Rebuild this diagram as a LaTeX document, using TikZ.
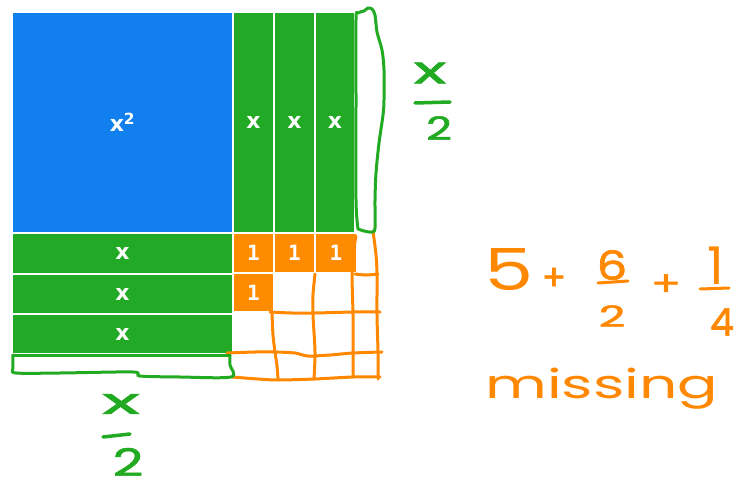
\documentclass[tikz,border=0pt]{standalone}
\usepackage{fontspec}
\setmainfont{DejaVu Sans}
\newfontfamily\boxfont{DejaVu Sans}
\newfontfamily\onefont{DejaVu Sans Mono}
\newfontfamily\hand{Poppins}
\newfontfamily\handb[FakeBold=1.5]{Poppins}
\definecolor{cblue}{RGB}{17,128,238}
\definecolor{cgreen}{RGB}{34,170,38}
\definecolor{corange}{RGB}{255,140,0}
\definecolor{hgreen}{RGB}{34,170,34}
\definecolor{horange}{RGB}{255,136,0}
\newcommand{\hw}[3]{\scalebox{#2}[1]{\hand\fontsize{#1}{#1}\selectfont #3}}
\newcommand{\hwb}[3]{\scalebox{#2}[1]{\handb\fontsize{#1}{#1}\selectfont #3}}
\begin{document}
\begin{tikzpicture}[x=1pt,y=-1pt,
  cell/.style={draw=white,line width=1.2pt,inner sep=0pt,text=white,
    font=\boxfont\bfseries\fontsize{22}{22}\selectfont},
  onecell/.style={cell,fill=corange,font=\onefont\bfseries\fontsize{21}{21}\selectfont},
  gpen/.style={draw=hgreen,line width=3pt,line cap=round,line join=round},
  open/.style={draw=horange,line width=3pt,line cap=round,line join=round},
  gtxt/.style={text=hgreen,inner sep=0pt},
  otxt/.style={text=horange,inner sep=0pt}]
\clip (0,0) rectangle (738,492);
\fill[white] (0,0) rectangle (738,492);
% tiles
\node[cell,fill=cblue,minimum width=221pt,minimum height=221pt] (sq) at (122.5,122.5) {x\textsuperscript{2}};
\node[cell,fill=cgreen,minimum width=41pt,minimum height=221pt] (v1) at (253.5,122.5) {x};
\node[cell,fill=cgreen,minimum width=41pt,minimum height=221pt] (v2) at (294.5,122.5) {x};
\node[cell,fill=cgreen,minimum width=40pt,minimum height=221pt] (v3) at (335,122.5) {x};
\node[cell,fill=cgreen,minimum width=221pt,minimum height=41pt] (h1) at (122.5,253.5) {x};
\node[cell,fill=cgreen,minimum width=221pt,minimum height=40pt] (h2) at (122.5,294) {x};
\node[cell,fill=cgreen,minimum width=221pt,minimum height=40pt] (h3) at (122.5,334) {x};
\node[onecell,minimum width=41pt,minimum height=40pt] (o1) at (253.5,253) {1};
\node[onecell,minimum width=41pt,minimum height=40pt] (o2) at (294.5,253) {1};
\node[onecell,minimum width=42pt,minimum height=40pt] (o3) at (336,253) {1};
\node[onecell,minimum width=41pt,minimum height=39pt] (o4) at (253.5,292.5) {1};
% orange hand-drawn grid
\draw[open] plot[smooth] coordinates {(272,313) (273,335) (275,352) (277,366) (278,379)};
\draw[open] plot[smooth] coordinates {(315,274) (313,295) (313,315) (315,352) (314,379)};
\draw[open] plot[smooth] coordinates {(356,236) (353,255) (352,275) (353,315) (353,352) (353,377)};
\draw[open] plot[smooth] coordinates {(373,231) (376,255) (377,275) (377,315) (378,352) (378,379)};
\draw[open] plot[smooth] coordinates {(355,274) (366,275) (378,274)};
\draw[open] plot[smooth] coordinates {(270,312) (292,313) (315,313) (353,312) (380,312)};
\draw[open] plot[smooth] coordinates {(227,353) (255,352) (275,352) (295,353) (308,356) (330,355) (353,353) (382,352)};
\draw[open] plot[smooth] coordinates {(232,377) (258,379) (278,380) (315,379) (353,377) (380,377)};
% green brackets
\draw[gpen] plot[smooth] coordinates {(358,229) (356,200) (356,100) (356,20) (358,13) (364,11) (368,8) (372,9) (375,15) (377,32) (382,50) (384,70) (384,100) (383,115) (379,143) (376,173) (375,200) (375,228) (372,232) (364,231) (358,229)};
\draw[gpen] (13,355) -- (230,355);
\draw[gpen] plot[smooth] coordinates {(13,355) (13,368) (16,373) (60,373) (133,372) (140,376) (180,377) (231,377) (230,365) (230,355)};
% green labels
\node[gtxt] (rx) at (430,73) {\hwb{38}{1.8}{x}};
\coordinate (rb1) at (415,103); \coordinate (rb2) at (450,102);
\draw[gpen,line width=3.5pt] (rb1) -- (rb2);
\node[gtxt] (r2) at (439,128) {\hwb{32}{1.4}{2}};
\node[gtxt] (bx) at (121,404) {\hwb{36}{2.2}{x}};
\coordinate (bb1) at (103,437); \coordinate (bb2) at (130,434);
\draw[gpen,line width=3.5pt] (bb1) -- (bb2);
\node[gtxt] (b2) at (128,462) {\hwb{38}{1.4}{2}};
% orange expression
\node[otxt] (five) at (509,270) {\hw{58}{1.35}{5}};
\node[otxt] (p1) at (554,279) {\hwb{36}{1}{+}};
\node[otxt] (six) at (612,265) {\hwb{40}{1.2}{6}};
\coordinate (f1a) at (598,283); \coordinate (f1b) at (628,281);
\draw[open] (f1a) -- (f1b);
\node[otxt] (two) at (612,316) {\hwb{29}{1.6}{2}};
\node[otxt] (p2) at (666,285) {\hwb{34}{1.3}{+}};
\node[otxt] (one) at (716,266) {\hw{52}{1}{1}};
\coordinate (f2a) at (700,289); \coordinate (f2b) at (729,288);
\draw[open] (f2a) -- (f2b);
\node[otxt] (four) at (722,322) {\hwb{38}{1}{4}};
\node[otxt,anchor=base west] (miss) at (485,398) {\hw{40}{1.5}{missing}};
\end{tikzpicture}
\end{document}
